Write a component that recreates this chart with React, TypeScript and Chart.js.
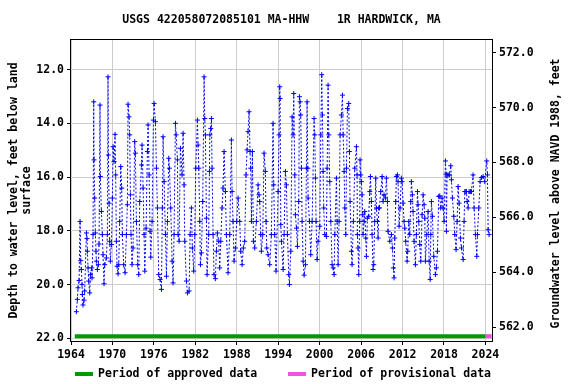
import React, { useEffect, useRef } from 'react';
import { Chart, registerables } from 'chart.js';

Chart.register(...registerables);

// ---------- text ----------
const TITLE = 'USGS 422058072085101 MA-HHW    1R HARDWICK, MA';
const LEFT_TITLE = ['Depth to water level, feet below land', 'surface'];
const RIGHT_TITLE = 'Groundwater level above NAVD 1988, feet';
const LEGEND_LABELS = ['Period of approved data', 'Period of provisional data'];

// ---------- axes ----------
const yearTicks = [1964, 1970, 1976, 1982, 1988, 1994, 2000, 2006, 2012, 2018, 2024];
const depthTicks = [12, 14, 16, 18, 20, 22];
const elevationTicks = [562, 564, 566, 568, 570, 572];

// ---------- data periods ----------
const approvedPeriod = [1964.55, 2024.0];
const provisionalPeriod = [2024.0, 2024.9];

// ---------- observations: [decimal year, depth to water (ft)] ----------
const obs1960s: [number, number][] = [
  [1964.78, 21.01], [1964.92, 20.55], [1965.02, 20.12], [1965.17, 19.85], [1965.31, 17.65],
  [1965.41, 19.11], [1965.5, 19.44], [1965.6, 20.0], [1965.65, 20.37], [1965.74, 20.76],
  [1965.89, 20.58], [1965.98, 20.24], [1966.23, 18.08], [1966.32, 18.29], [1966.37, 18.76],
  [1966.47, 19.38], [1966.56, 19.87], [1966.71, 20.31], [1966.81, 19.63], [1967.0, 19.38],
  [1967.05, 19.75], [1967.19, 18.14], [1967.29, 13.2], [1967.34, 15.36], [1967.43, 16.78],
  [1967.53, 18.08], [1967.62, 18.76], [1967.67, 19.13], [1967.82, 19.44], [1967.96, 19.26],
  [1968.06, 18.49], [1968.2, 13.32], [1968.25, 15.98], [1968.4, 17.28], [1968.54, 18.14],
  [1968.64, 18.89], [1968.78, 19.97], [1968.88, 19.26], [1969.12, 19.01], [1969.27, 18.14],
  [1969.36, 12.27], [1969.41, 15.18], [1969.51, 16.97], [1969.6, 18.39], [1969.7, 19.13],
  [1969.85, 18.51], [1969.99, 16.78],
];
const obs1970s: [number, number][] = [
  [1970.09, 14.87], [1970.23, 15.42], [1970.38, 14.41], [1970.47, 15.92], [1970.57, 18.39],
  [1970.67, 19.32], [1970.81, 19.6], [1970.91, 19.26], [1971.05, 17.65], [1971.2, 15.61],
  [1971.34, 16.41], [1971.44, 18.14], [1971.63, 19.26], [1971.83, 19.56], [1972.02, 18.14],
  [1972.16, 17.03], [1972.26, 13.29], [1972.4, 13.76], [1972.5, 14.43], [1972.6, 16.66],
  [1972.69, 18.14], [1972.84, 19.26], [1972.98, 18.64], [1973.22, 14.68], [1973.32, 15.11],
  [1973.47, 17.65], [1973.66, 19.26], [1973.81, 19.63], [1973.95, 16.91], [1974.2, 15.55],
  [1974.29, 14.81], [1974.44, 16.41], [1974.58, 18.14], [1974.68, 19.5], [1974.87, 17.9],
  [1975.06, 15.05], [1975.16, 14.06], [1975.31, 15.92], [1975.45, 18.02], [1975.55, 18.98],
  [1975.74, 17.65], [1975.93, 13.88], [1976.03, 13.26], [1976.22, 13.94], [1976.37, 15.67],
  [1976.51, 17.15], [1976.7, 19.63], [1976.9, 19.81], [1977.09, 20.18], [1977.23, 17.15],
  [1977.33, 14.5], [1977.48, 16.17], [1977.67, 18.14], [1977.82, 19.69], [1977.96, 17.65],
  [1978.15, 15.3], [1978.25, 15.67], [1978.44, 17.15], [1978.64, 19.13], [1978.78, 19.94],
  [1978.92, 18.14], [1979.12, 14.0], [1979.22, 14.43], [1979.41, 15.36], [1979.5, 18.14],
  [1979.65, 18.39], [1979.84, 14.93],
];
const obs1980s: [number, number][] = [
  [1980.08, 15.92], [1980.23, 14.37], [1980.37, 16.29], [1980.47, 18.39], [1980.71, 19.87],
  [1980.86, 20.31], [1981.1, 20.24], [1981.24, 18.14], [1981.43, 17.15], [1981.57, 18.64],
  [1981.77, 19.5], [1981.92, 18.14], [1982.06, 15.67], [1982.3, 13.88], [1982.4, 14.81],
  [1982.5, 15.67], [1982.64, 17.65], [1982.74, 19.26], [1982.88, 18.82], [1983.07, 16.91],
  [1983.27, 12.27], [1983.36, 13.82], [1983.46, 14.43], [1983.61, 17.53], [1983.7, 19.63],
  [1983.94, 18.14], [1984.04, 15.79], [1984.1, 14.43], [1984.23, 14.19], [1984.33, 13.82],
  [1984.42, 15.67], [1984.57, 18.14], [1984.71, 19.63], [1984.9, 19.78], [1985.05, 18.76],
  [1985.19, 18.08], [1985.39, 18.39], [1985.53, 19.38], [1985.68, 18.39], [1985.87, 17.15],
  [1986.01, 16.41], [1986.16, 15.05], [1986.35, 16.54], [1986.5, 18.14], [1986.74, 19.56],
  [1986.98, 18.14], [1987.22, 14.62], [1987.32, 16.54], [1987.46, 17.65], [1987.61, 19.13],
  [1987.8, 18.64], [1987.99, 17.65], [1988.19, 16.78], [1988.43, 17.65], [1988.57, 18.76],
  [1988.77, 19.26], [1988.96, 18.64], [1989.15, 18.39], [1989.34, 15.92], [1989.49, 14.99],
  [1989.63, 14.31], [1989.78, 13.57], [1989.92, 15.05],
];
const obs1990s: [number, number][] = [
  [1990.02, 15.67], [1990.12, 17.65], [1990.26, 15.05], [1990.41, 18.39], [1990.6, 18.64],
  [1990.84, 17.65], [1991.08, 16.29], [1991.22, 16.66], [1991.32, 16.91], [1991.47, 18.14],
  [1991.56, 18.76], [1991.76, 18.14], [1991.95, 15.11], [1992.14, 15.79], [1992.24, 17.65],
  [1992.34, 18.64], [1992.53, 18.89], [1992.77, 19.26], [1993.01, 18.14], [1993.25, 14.0],
  [1993.35, 16.29], [1993.49, 18.14], [1993.69, 19.5], [1993.98, 16.54], [1994.12, 14.43],
  [1994.22, 12.64], [1994.27, 13.08], [1994.37, 17.77], [1994.47, 18.39], [1994.71, 19.44],
  [1994.85, 18.14], [1995.04, 15.79], [1995.19, 16.29], [1995.33, 18.14], [1995.53, 19.63],
  [1995.62, 20.0], [1995.82, 18.76], [1996.01, 13.76], [1996.15, 14.43], [1996.25, 12.89],
  [1996.4, 15.92], [1996.49, 17.4], [1996.64, 17.9], [1996.78, 18.58], [1996.97, 16.91],
  [1997.07, 13.01], [1997.17, 13.2], [1997.26, 13.69], [1997.36, 15.67], [1997.46, 17.65],
  [1997.61, 19.13], [1997.75, 19.65], [1997.94, 19.26], [1998.08, 15.67], [1998.18, 13.2],
  [1998.28, 15.67], [1998.33, 16.78], [1998.52, 17.65], [1998.71, 18.89], [1998.91, 17.65],
  [1999.19, 13.82], [1999.29, 14.43], [1999.39, 16.04], [1999.48, 17.65], [1999.63, 19.07],
  [1999.77, 18.39],
];
const obs2000s: [number, number][] = [
  [2000.02, 17.83], [2000.16, 14.43], [2000.3, 12.19], [2000.4, 13.69], [2000.5, 15.79],
  [2000.59, 17.15], [2000.74, 18.14], [2000.98, 18.21], [2001.08, 15.67], [2001.22, 12.58],
  [2001.32, 14.43], [2001.46, 16.17], [2001.61, 17.65], [2001.8, 19.26], [2001.95, 19.38],
  [2002.09, 19.63], [2002.19, 18.14], [2002.43, 16.04], [2002.53, 17.65], [2002.67, 19.26],
  [2002.81, 17.65], [2002.96, 14.43], [2003.15, 13.69], [2003.3, 12.95], [2003.4, 14.43],
  [2003.54, 15.79], [2003.64, 17.15], [2003.78, 18.14], [2003.88, 15.67], [2004.02, 13.45],
  [2004.21, 13.26], [2004.31, 15.05], [2004.4, 16.91], [2004.6, 18.76], [2004.69, 19.26],
  [2004.88, 17.65], [2005.08, 15.67], [2005.32, 14.87], [2005.42, 15.92], [2005.46, 18.14],
  [2005.56, 18.64], [2005.66, 19.63], [2005.8, 17.65], [2005.85, 15.36], [2005.95, 15.92],
  [2006.04, 16.17], [2006.14, 16.66], [2006.24, 17.4], [2006.28, 18.14], [2006.43, 17.65],
  [2006.53, 17.28], [2006.67, 18.27], [2006.77, 18.95], [2006.91, 17.53], [2007.1, 17.46],
  [2007.25, 16.54], [2007.35, 15.98], [2007.49, 16.91], [2007.59, 18.14], [2007.73, 19.44],
  [2007.83, 19.26], [2007.97, 17.65], [2008.12, 16.04], [2008.22, 17.15], [2008.36, 17.65],
  [2008.46, 18.27], [2008.55, 17.15], [2008.65, 17.15], [2008.84, 16.54], [2009.04, 15.98],
  [2009.18, 16.91], [2009.32, 16.66], [2009.52, 16.78], [2009.66, 16.04], [2009.81, 16.91],
  [2009.9, 18.02],
];
const obs2010s: [number, number][] = [
  [2010.15, 18.39], [2010.39, 18.14], [2010.53, 18.64], [2010.68, 19.38], [2010.77, 19.75],
  [2010.87, 18.27], [2011.01, 16.91], [2011.11, 15.98], [2011.26, 15.92], [2011.35, 16.17],
  [2011.5, 17.83], [2011.64, 17.15], [2011.83, 16.04], [2011.93, 16.17], [2012.08, 16.97],
  [2012.22, 17.65], [2012.32, 17.9], [2012.46, 18.39], [2012.66, 19.13], [2012.75, 18.76],
  [2012.9, 17.65], [2013.04, 18.14], [2013.19, 16.91], [2013.28, 16.17], [2013.43, 16.66],
  [2013.52, 17.28], [2013.67, 18.39], [2013.86, 19.26], [2014.0, 18.14], [2014.16, 16.54],
  [2014.25, 17.03], [2014.35, 17.65], [2014.49, 18.51], [2014.64, 19.13], [2014.83, 17.4],
  [2014.98, 16.66], [2015.12, 17.03], [2015.22, 17.53], [2015.31, 19.13], [2015.51, 18.14],
  [2015.7, 17.28], [2015.85, 19.13], [2016.0, 19.81], [2016.09, 18.14], [2016.18, 16.91],
  [2016.33, 17.46], [2016.52, 18.95], [2016.76, 19.63], [2016.9, 19.38], [2017.05, 18.76],
  [2017.24, 16.72], [2017.39, 16.7], [2017.53, 17.15], [2017.73, 16.78], [2017.87, 17.15],
  [2018.02, 17.65], [2018.21, 15.4], [2018.3, 15.89], [2018.35, 18.02], [2018.45, 15.92],
  [2018.6, 15.92], [2018.79, 15.92], [2018.98, 15.58], [2019.08, 16.1], [2019.22, 16.78],
  [2019.42, 17.46], [2019.56, 18.14], [2019.75, 18.7], [2019.9, 17.65],
];
const obs2020s: [number, number][] = [
  [2020.04, 16.35], [2020.19, 16.97], [2020.38, 18.27], [2020.53, 18.64], [2020.77, 19.07],
  [2020.91, 17.65], [2021.01, 16.54], [2021.15, 16.54], [2021.25, 16.54], [2021.35, 16.91],
  [2021.49, 17.15], [2021.64, 16.54], [2021.83, 16.54], [2021.97, 16.54], [2022.21, 15.92],
  [2022.36, 17.15], [2022.55, 18.14], [2022.75, 18.95], [2022.84, 18.14], [2023.04, 17.15],
  [2023.23, 16.17], [2023.42, 16.02], [2023.66, 15.98], [2023.9, 16.17], [2024.19, 15.4],
  [2024.29, 15.92], [2024.39, 17.96], [2024.53, 18.14],
];

// ---------- style ----------
const FONT_FAMILY = '"DejaVu Sans Mono", "Liberation Mono", monospace';
const FONT_SIZE = 11.5;
const BAR_DEPTH = 21.92;
const BLUE = '#0000ff';
const GREEN = '#009a00';
const PINK = '#ee55dd';
const GRID = '#cccccc';

const decorPlugin = {
  id: 'decor',
  afterDraw(chart: any) {
    const { ctx, chartArea: a } = chart;
    ctx.save();
    // frame
    ctx.strokeStyle = '#000';
    ctx.lineWidth = 1;
    ctx.strokeRect(a.left - 0.5, a.top - 0.5, a.right - a.left + 1, a.bottom - a.top + 1);

    ctx.fillStyle = '#000';
    ctx.font = `bold ${FONT_SIZE}px ${FONT_FAMILY}`;
    ctx.textAlign = 'center';
    ctx.textBaseline = 'middle';
    // title
    ctx.fillText(TITLE, (a.left + a.right) / 2, 20);

    // left axis title
    const midY = (a.top + a.bottom) / 2;
    ctx.save();
    ctx.translate(14, midY);
    ctx.rotate(-Math.PI / 2);
    ctx.fillText(LEFT_TITLE[0], 0, 0);
    ctx.fillText(LEFT_TITLE[1], 0, 13);
    ctx.restore();

    // right axis title
    ctx.save();
    ctx.translate(556, midY + 3);
    ctx.rotate(-Math.PI / 2);
    ctx.fillText(RIGHT_TITLE, 0, 0);
    ctx.restore();

    // legend
    const ly = 374;
    ctx.lineWidth = 4;
    ctx.strokeStyle = GREEN;
    ctx.beginPath();
    ctx.moveTo(75, ly);
    ctx.lineTo(93, ly);
    ctx.stroke();
    ctx.strokeStyle = PINK;
    ctx.beginPath();
    ctx.moveTo(288, ly);
    ctx.lineTo(306, ly);
    ctx.stroke();
    ctx.textAlign = 'left';
    ctx.fillText(LEGEND_LABELS[0], 98, ly);
    ctx.fillText(LEGEND_LABELS[1], 311, ly);
    ctx.restore();
  },
};

export default function App() {
  const canvasRef = useRef<HTMLCanvasElement | null>(null);

  useEffect(() => {
    const canvas = canvasRef.current;
    if (!canvas) return;
    const all = [...obs1960s, ...obs1970s, ...obs1980s, ...obs1990s, ...obs2000s, ...obs2010s, ...obs2020s];
    const font = { family: FONT_FAMILY, size: FONT_SIZE, weight: 'bold' as const };

    const chart = new Chart(canvas, {
      type: 'line',
      data: {
        datasets: [
          {
            label: 'Depth',
            data: all.map(([x, y]) => ({ x, y })),
            borderColor: BLUE,
            backgroundColor: BLUE,
            borderWidth: 1,
            borderDash: [2, 2],
            pointStyle: 'cross',
            pointRadius: 2.5,
            pointBorderWidth: 1,
            pointBorderColor: BLUE,
            fill: false,
            tension: 0,
            yAxisID: 'y',
          },
          {
            label: LEGEND_LABELS[0],
            data: approvedPeriod.map((x) => ({ x, y: BAR_DEPTH })),
            borderColor: GREEN,
            borderWidth: 4,
            pointRadius: 0,
            fill: false,
            yAxisID: 'y',
          },
          {
            label: LEGEND_LABELS[1],
            data: provisionalPeriod.map((x) => ({ x, y: BAR_DEPTH })),
            borderColor: PINK,
            borderWidth: 4,
            pointRadius: 0,
            fill: false,
            yAxisID: 'y',
          },
        ],
      },
      options: {
        animation: false,
        responsive: false,
        devicePixelRatio: 1,
        layout: { padding: { top: 40, left: 0, right: 0, bottom: 0 } },
        plugins: { legend: { display: false }, title: { display: false }, tooltip: { enabled: false } },
        scales: {
          x: {
            type: 'linear',
            position: 'bottom',
            min: 1964,
            max: 2024.95,
            afterBuildTicks: (s: any) => {
              s.ticks = yearTicks.map((v) => ({ value: v }));
            },
            afterFit: (s: any) => {
              s.height = 43;
            },
            ticks: { font, color: '#000', padding: 3, maxRotation: 0, autoSkip: false, callback: (v: any) => String(v) },
            grid: { color: GRID, tickColor: '#000', tickLength: 4, lineWidth: 1 },
            border: { display: false },
          },
          y: {
            type: 'linear',
            position: 'left',
            reverse: true,
            min: 10.9,
            max: 22.1,
            afterBuildTicks: (s: any) => {
              s.ticks = depthTicks.map((v) => ({ value: v }));
            },
            afterFit: (s: any) => {
              s.width = 71;
            },
            ticks: { font, color: '#000', padding: 3, autoSkip: false, callback: (v: any) => Number(v).toFixed(1) },
            grid: { color: GRID, tickColor: '#000', tickLength: 4, lineWidth: 1 },
            border: { display: false },
          },
          y2: {
            type: 'linear',
            position: 'right',
            min: 561.5,
            max: 572.46,
            afterBuildTicks: (s: any) => {
              s.ticks = elevationTicks.map((v) => ({ value: v }));
            },
            afterFit: (s: any) => {
              s.width = 84;
            },
            ticks: { font, color: '#000', padding: 3, autoSkip: false, callback: (v: any) => Number(v).toFixed(1) },
            grid: { drawOnChartArea: false, tickColor: '#000', tickLength: 4 },
            border: { display: false },
          },
        },
      },
      plugins: [decorPlugin],
    });
    return () => chart.destroy();
  }, []);

  return (
    <div style={{ position: 'fixed', left: 0, top: 0, width: 576, height: 384, background: '#fff' }}>
      <canvas ref={canvasRef} width={576} height={384} style={{ width: 576, height: 384, display: 'block' }} />
    </div>
  );
}
